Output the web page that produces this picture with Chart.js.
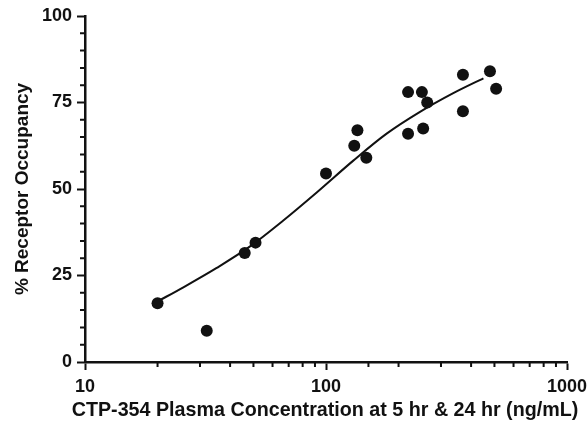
<!DOCTYPE html>
<html>
<head>
<meta charset="utf-8">
<script src="https://cdn.jsdelivr.net/npm/chart.js@4/dist/chart.umd.min.js"></script>
<style>
  html, body { margin: 0; padding: 0; background: #fff; }
  #wrap { width: 587px; height: 426px; }
</style>
</head>
<body>
<div id="wrap"><canvas id="c" width="587" height="426"></canvas></div>
<script>
// Observed data points
const concentrations = [20, 32, 46, 51, 100, 131, 135, 147, 219, 219, 250, 253, 263, 370, 370, 479, 508];
const occupancy      = [17, 9, 31.5, 34.5, 54.5, 62.5, 67, 59, 78, 66, 78, 67.5, 75, 83, 72.5, 84, 79];

// Fitted curve
const fitX = [20, 25.6, 35.2, 48.4, 66.5, 91.5, 129.8, 178.5, 245.5, 337.4, 450];
const fitY = [17.5, 21.6, 27.2, 33.4, 40.9, 49.0, 58.2, 66.0, 72.3, 77.7, 82.0];

// Axis settings
const yMajorTicks = [0, 25, 50, 75, 100];
const xMajorTicks = [10, 100, 1000];

const xTitle = 'CTP-354 Plasma Concentration at 5 hr & 24 hr (ng/mL)';
const yTitle = '% Receptor Occupancy';

const FONT = "'Liberation Sans', Arial, sans-serif";
const INK = '#111';

const isXMajor = v => xMajorTicks.some(m => Math.abs(m - v) < 1e-6);
const isYMajor = v => yMajorTicks.includes(v);

const minorTicks = {
  id: 'minorTicks',
  afterDraw(chart) {
    const ctx = chart.ctx;
    const xs = chart.scales.x, ys = chart.scales.y;
    ctx.save();
    ctx.strokeStyle = INK;
    ctx.lineWidth = 2;
    ctx.beginPath();
    xs.ticks.forEach(t => {
      if (!isXMajor(t.value)) {
        const px = xs.getPixelForValue(t.value);
        ctx.moveTo(px, xs.top);
        ctx.lineTo(px, xs.top + 5);
      }
    });
    ys.ticks.forEach(t => {
      if (!isYMajor(t.value)) {
        const py = ys.getPixelForValue(t.value);
        ctx.moveTo(ys.right, py);
        ctx.lineTo(ys.right - 5, py);
      }
    });
    ctx.stroke();
    // x-axis title, centred under the plot area (drawn without width compression)
    ctx.fillStyle = INK;
    ctx.font = "bold 19.7px " + FONT;
    ctx.textAlign = 'center';
    ctx.textBaseline = 'middle';
    const a = chart.chartArea;
    ctx.fillText(xTitle, (a.left + a.right) / 2 - 1, 411);
    ctx.restore();
  }
};

const pts = concentrations.map((x, i) => ({ x, y: occupancy[i] }));
const fit = fitX.map((x, i) => ({ x, y: fitY[i] }));

new Chart(document.getElementById('c'), {
  type: 'scatter',
  data: {
    datasets: [
      {
        label: 'fit',
        data: fit,
        showLine: true,
        borderColor: INK,
        borderWidth: 2,
        pointRadius: 0,
        cubicInterpolationMode: 'monotone',
        fill: false,
        order: 2
      },
      {
        label: 'data',
        data: pts,
        pointRadius: 6,
        pointBackgroundColor: INK,
        pointBorderColor: INK,
        pointBorderWidth: 0,
        order: 1
      }
    ]
  },
  options: {
    responsive: false,
    animation: false,
    events: [],
    layout: { padding: { top: 16, right: 20, bottom: 0, left: 0 } },
    plugins: { legend: { display: false }, tooltip: { enabled: false } },
    scales: {
      x: {
        type: 'logarithmic',
        min: 10,
        max: 1000,
        afterFit(s) { s.height = 64; s.paddingRight = 0; s.paddingLeft = 0; },
        border: { display: true, color: INK, width: 2.5 },
        grid: {
          drawOnChartArea: false,
          drawTicks: true,
          tickLength: 8,
          tickWidth: 2,
          tickColor: c => (c.tick && isXMajor(c.tick.value)) ? INK : 'rgba(0,0,0,0)'
        },
        ticks: {
          autoSkip: false,
          maxRotation: 0,
          padding: 6,
          color: INK,
          font: { family: FONT, size: 18, weight: 'bold' },
          callback: v => isXMajor(v) ? String(v) : ''
        },
        title: { display: false, text: xTitle }
      },
      y: {
        type: 'linear',
        min: 0,
        max: 100,
        afterFit(s) { s.width = 85; },
        border: { display: true, color: INK, width: 2.5 },
        grid: {
          drawOnChartArea: false,
          drawTicks: true,
          tickLength: 8,
          tickWidth: 2,
          tickColor: c => (c.tick && isYMajor(c.tick.value)) ? INK : 'rgba(0,0,0,0)'
        },
        ticks: {
          stepSize: 5,
          autoSkip: false,
          padding: 5,
          color: INK,
          font: { family: FONT, size: 18, weight: 'bold' },
          callback: v => isYMajor(v) ? String(v) : ''
        },
        title: {
          display: true,
          text: yTitle,
          color: INK,
          font: { family: FONT, size: 19, weight: 'bold', lineHeight: 1.2 },
          padding: { top: 11, bottom: 0 }
        }
      }
    }
  },
  plugins: [minorTicks]
});
</script>
</body>
</html>
